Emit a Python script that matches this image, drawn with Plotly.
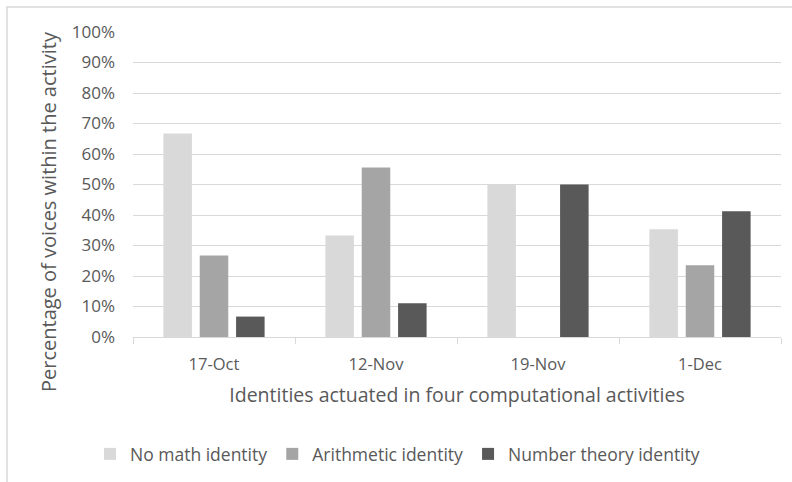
import plotly.graph_objects as go

# Activity dates (categories)
activities = ["17-Oct", "12-Nov", "19-Nov", "1-Dec"]

# Share of voices per identity type within each activity (%)
no_math = [66.7, 33.3, 50.0, 35.3]
arithmetic = [26.7, 55.6, 0.0, 23.5]
number_theory = [6.7, 11.1, 50.0, 41.2]

series_names = ["No math identity", "Arithmetic identity", "Number theory identity"]
series_colors = ["#d9d9d9", "#a5a5a5", "#595959"]

y_ticks = list(range(0, 101, 10))
y_tick_labels = [f"{v}%" for v in y_ticks]

x_title = "Identities actuated in four computational activities"
y_title = "Percentage of voices within the activity"

text_color = "#595959"
grid_color = "#d9d9d9"
font_family = "Open Sans, sans-serif"

fig = go.Figure()
for name, vals, col in zip(series_names, [no_math, arithmetic, number_theory], series_colors):
    fig.add_trace(go.Bar(
        x=activities, y=vals, name=name,
        marker=dict(color=col, line=dict(width=0)),
    ))

W, H = 792, 482
ml, mr, mt, mb = 133, 11, 32, 145
pw, ph = W - ml - mr, H - mt - mb

def px_to_paper_x(px):
    return (px - ml) / pw

def px_to_paper_y(py):
    return (H - mb - py) / ph

fig.update_layout(
    width=W, height=H,
    margin=dict(l=ml, r=mr, t=mt, b=mb, autoexpand=False),
    paper_bgcolor="white", plot_bgcolor="white",
    font=dict(family=font_family, color=text_color, size=16),
    barmode="group", bargap=0.327, bargroupgap=0.215,
    showlegend=True,
    legend=dict(
        orientation="h",
        x=px_to_paper_x(90), xanchor="left",
        y=px_to_paper_y(454), yanchor="middle",
        font=dict(size=17.5, color=text_color),
        itemwidth=30,
        traceorder="normal",
    ),
    xaxis=dict(
        showgrid=False, showline=True, linecolor=grid_color, linewidth=1,
        ticks="outside", tickson="boundaries", ticklen=6, tickcolor=grid_color,
        tickfont=dict(size=16.5, color=text_color), ticklabelstandoff=12,
        title=dict(text=x_title, font=dict(size=19.5, color=text_color), standoff=14),
        automargin=False,
    ),
    yaxis=dict(
        range=[0, 100], tickvals=y_ticks, ticktext=y_tick_labels,
        showgrid=True, gridcolor=grid_color, gridwidth=1,
        zeroline=False, showline=False,
        tickfont=dict(size=17, color=text_color), ticks="", ticklabelstandoff=17,
        automargin=False,
    ),
    annotations=[dict(
        text=y_title, textangle=-90, showarrow=False,
        xref="paper", yref="paper",
        x=px_to_paper_x(48), y=px_to_paper_y(212),
        xanchor="center", yanchor="middle",
        font=dict(size=20, color=text_color),
    )],
    shapes=[dict(
        type="rect", xref="paper", yref="paper",
        x0=px_to_paper_x(7), x1=px_to_paper_x(W + 20),
        y0=px_to_paper_y(H + 20), y1=px_to_paper_y(7),
        line=dict(color=grid_color, width=1.5), fillcolor="rgba(0,0,0,0)",
        layer="below",
    )],
)

fig.write_html("out.html")
